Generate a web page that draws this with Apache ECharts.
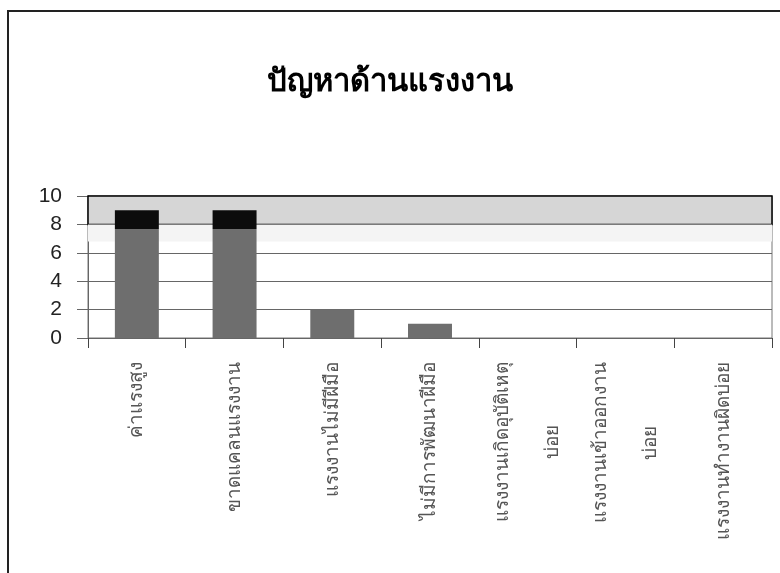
<!DOCTYPE html>
<html>
<head>
<meta charset="utf-8">
<script src="https://cdn.jsdelivr.net/npm/echarts@6/dist/echarts.min.js"></script>
<style>
  html, body { margin: 0; padding: 0; background: #fff; }
  #wrap { position: relative; width: 780px; height: 573px; }
  #chart { width: 780px; height: 573px; }
  #frame { position: absolute; left: 7px; top: 10px; right: 0; bottom: 0;
           border-top: 2px solid #222; border-left: 2px solid #222; pointer-events: none; }
</style>
</head>
<body>
<div id="wrap"><div id="chart"></div><div id="frame"></div></div>
<script>
const titleText = 'ปัญหาด้านแรงงาน';
const categories = [
  'ค่าแรงสูง',
  'ขาดแคลนแรงงาน',
  'แรงงานไม่มีฝีมือ',
  'ไม่มีการพัฒนาฝีมือ',
  'แรงงานเกิดอุบัติเหตุ\nบ่อย',
  'แรงงานเข้าออกงาน\nบ่อย',
  'แรงงานทำงานผิดบ่อย'
];
const values = [9, 9, 2, 1, 0, 0, 0];
const yTicks = [0, 2, 4, 6, 8, 10];

const barGray = '#6e6e6e';
const barDark = '#0c0c0c';
const darkFrom = 7.7;

const chart = echarts.init(document.getElementById('chart'), null, { renderer: 'canvas' });

function barColor(p) {
  const v = p.value;
  if (v <= darkFrom) return barGray;
  const f = (v - darkFrom) / v;
  return new echarts.graphic.LinearGradient(0, 0, 0, 1, [
    { offset: 0, color: barDark },
    { offset: f, color: barDark },
    { offset: f, color: barGray },
    { offset: 1, color: barGray }
  ]);
}

const labelSize = 19;

chart.setOption({
  backgroundColor: '#ffffff',
  animation: false,
  title: {
    text: titleText,
    left: 'center',
    top: 62,
    textStyle: { fontSize: 31, fontWeight: 'bold', color: '#000', fontFamily: 'Noto Sans, sans-serif' }
  },
  grid: { left: 88, right: 8, top: 196, bottom: 235, show: true, borderColor: '#777', borderWidth: 1 },
  xAxis: {
    type: 'category',
    data: categories,
    axisLine: { lineStyle: { color: '#666', width: 1 } },
    axisTick: { show: true, length: 10, lineStyle: { color: '#444' } },
    axisLabel: {
      interval: 0,
      rotate: 90,
      margin: 24,
      color: '#555',
      fontSize: labelSize,
      fontFamily: 'Noto Sans, sans-serif',
      formatter: function (s) {
        const parts = s.split('\n');
        if (parts.length === 1) return s;
        return '{a|' + parts[0] + '}\n{b|' + parts[1] + '}';
      },
      rich: {
        a: { lineHeight: 50, fontSize: labelSize, color: '#555', align: 'left' },
        b: { lineHeight: 50, fontSize: labelSize, color: '#555', align: 'center' }
      }
    }
  },
  yAxis: {
    type: 'value',
    min: yTicks[0],
    max: yTicks[yTicks.length - 1],
    interval: yTicks[1] - yTicks[0],
    axisLine: { show: true, lineStyle: { color: '#666' } },
    axisTick: { show: true, length: 11, lineStyle: { color: '#666' } },
    axisLabel: { color: '#222', fontSize: 21, fontFamily: 'Liberation Sans, Arial, sans-serif', margin: 26 },
    splitLine: { show: true, lineStyle: { color: '#666', width: 1 } }
  },
  series: [{
    type: 'bar',
    data: values,
    barWidth: '45%',
    itemStyle: { color: barColor },
    markArea: {
      silent: true,
      label: { show: false },
      data: [
        [{ yAxis: 8, itemStyle: { color: '#d6d6d6', borderColor: '#000', borderWidth: 1.5 } }, { yAxis: 10 }],
        [{ yAxis: 6.8, itemStyle: { color: '#f4f4f4', borderWidth: 0 } }, { yAxis: 8 }]
      ]
    }
  }]
});
</script>
</body>
</html>
